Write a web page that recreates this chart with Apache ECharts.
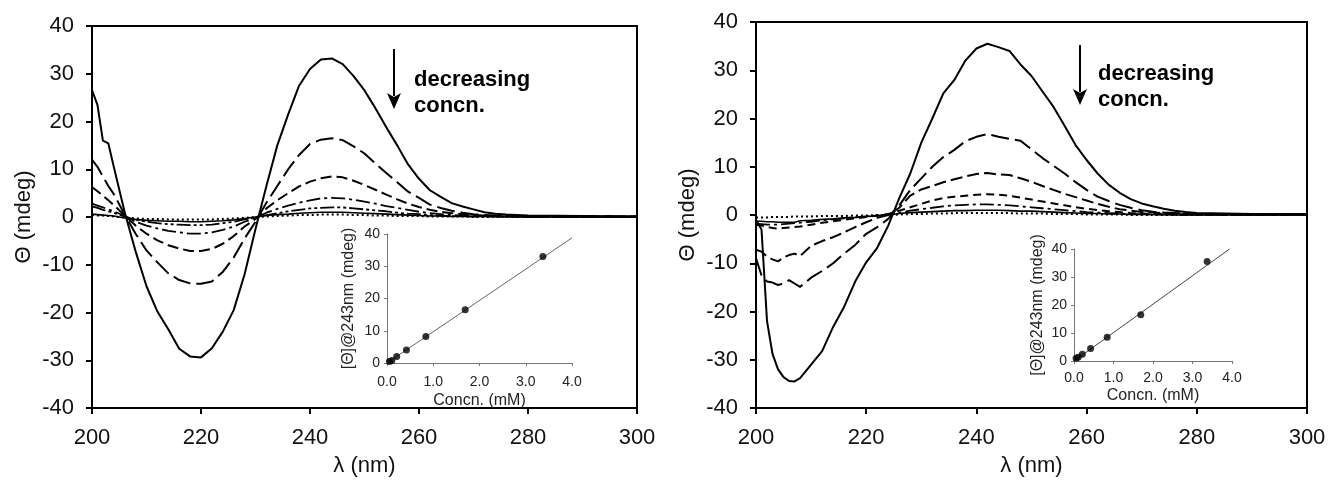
<!DOCTYPE html>
<html><head><meta charset="utf-8">
<script src="https://cdn.jsdelivr.net/npm/echarts@6/dist/echarts.min.js"></script>
<style>html,body{margin:0;padding:0;background:#fff}#c{width:1331px;height:487px}</style>
</head><body><div id="c"></div>
<script>
// ---- Left panel (wavelength, nm) ----
const waveL = [200,201,202,203,204,206,208,210,212,214,216,218,220,222,224,226,228,230,232,234,236,238,240,242,244,246,248,250,252,254,256,258,260,262,264,266,268,270,272,274,276,278,280,290,300];
const L1 = [26.6,23.5,16.0,15.4,10.5,1.0,-7.2,-14.5,-19.8,-23.5,-27.6,-29.2,-29.4,-27.5,-24.0,-19.5,-12.0,-2.5,6.5,15.0,21.5,27.5,31.0,33.0,33.2,32.0,29.5,26.5,22.8,18.8,15.0,11.0,8.0,5.6,4.2,2.9,2.2,1.6,1.0,0.7,0.5,0.4,0.3,0.2,0.1];
const L2 = [12.0,10.5,8.5,6.5,4.8,0.5,-3.5,-7.0,-9.5,-11.8,-13.2,-13.9,-14.0,-13.5,-11.5,-8.5,-4.5,-1.0,3.0,6.5,10.0,13.0,15.3,16.2,16.5,16.1,14.8,13.3,11.2,9.2,7.3,5.3,4.0,2.6,1.9,1.3,0.9,0.6,0.4,0.3,0.2,0.2,0.1,0.1,0.1];
const L3 = [6.3,5.4,4.5,3.5,2.5,0.3,-1.8,-3.5,-4.9,-5.9,-6.6,-7.1,-7.1,-6.7,-5.6,-4.0,-2.0,-0.4,1.8,3.5,5.0,6.4,7.4,8.1,8.5,8.3,7.6,6.7,5.7,4.7,3.7,2.8,2.1,1.5,1.1,0.8,0.6,0.4,0.3,0.2,0.2,0.1,0.1,0.1,0.1];
const L4 = [2.8,2.4,2.0,1.6,1.2,0.2,-1.0,-1.8,-2.4,-2.9,-3.2,-3.5,-3.5,-3.2,-2.7,-2.0,-1.0,-0.2,0.9,1.7,2.4,3.0,3.5,3.9,4.0,3.9,3.6,3.2,2.8,2.3,1.9,1.5,1.1,0.8,0.6,0.4,0.3,0.2,0.2,0.1,0.1,0.1,0.1,0.1,0.1];
const L5 = [2.2,1.9,1.5,1.2,0.9,0.1,-0.6,-1.0,-1.3,-1.5,-1.6,-1.7,-1.7,-1.6,-1.3,-1.0,-0.5,-0.1,0.4,0.8,1.2,1.5,1.8,1.9,2.0,2.0,1.8,1.6,1.4,1.2,0.9,0.7,0.6,0.4,0.3,0.2,0.2,0.1,0.1,0.1,0.1,0.1,0.1,0.0,0.0];
const L6 = [0.6,0.5,0.4,0.3,0.2,-0.2,-0.5,-0.7,-0.8,-0.9,-0.9,-1.0,-1.0,-0.9,-0.8,-0.6,-0.3,0.0,0.3,0.5,0.6,0.8,0.9,1.0,1.0,1.0,0.9,0.8,0.7,0.6,0.5,0.4,0.3,0.2,0.2,0.1,0.1,0.1,0.1,0.1,0.1,0.0,0.0,0.0,0.0];
const L7 = [0.4,0.3,0.3,0.2,0.1,-0.1,-0.3,-0.4,-0.4,-0.5,-0.5,-0.5,-0.5,-0.5,-0.4,-0.3,-0.2,0.0,0.1,0.2,0.3,0.4,0.4,0.5,0.5,0.5,0.4,0.4,0.3,0.3,0.2,0.2,0.2,0.1,0.1,0.1,0.1,0.0,0.0,0.0,0.0,0.0,0.0,0.0,0.0];

// ---- Right panel ----
const waveR = [200,201,202,203,204,205,206,207,208,210,212,214,216,218,220,222,224,226,228,230,232,234,236,238,240,242,244,246,248,250,252,254,256,258,260,262,264,266,268,270,272,274,276,278,280,290,300];
const R1 = [-1.0,-3.0,-22.0,-28.8,-32.0,-33.6,-34.4,-34.5,-33.8,-31.0,-28.2,-23.2,-19.0,-13.8,-9.8,-6.8,-2.2,3.5,8.6,15.0,20.0,25.2,28.0,32.0,34.5,35.5,34.8,34.0,31.2,28.8,25.6,22.4,18.5,14.5,11.4,8.6,6.3,4.6,3.3,2.4,1.8,1.3,0.9,0.6,0.4,0.2,0.2];
const R2 = [-9.0,-12.5,-13.8,-14.0,-14.5,-14.2,-13.5,-14.2,-14.9,-13.0,-11.6,-10.0,-8.0,-6.2,-3.9,-2.5,-0.8,2.0,5.2,7.6,10.0,12.0,13.5,15.3,16.2,16.8,16.2,15.8,15.4,13.6,11.8,10.2,8.6,6.8,5.2,3.8,2.9,2.1,1.5,1.0,0.7,0.5,0.4,0.3,0.2,0.1,0.1];
const R3 = [-7.2,-7.6,-8.6,-9.2,-9.6,-8.8,-8.3,-8.0,-8.5,-6.4,-5.4,-4.6,-3.6,-2.5,-1.5,-0.6,0.0,1.5,4.0,5.3,6.0,6.8,7.4,8.0,8.5,8.7,8.4,8.3,7.6,6.9,6.0,5.2,4.4,3.7,3.0,2.3,1.7,1.2,0.9,0.6,0.5,0.4,0.3,0.2,0.2,0.1,0.1];
const R4 = [-2.0,-2.2,-2.5,-2.7,-2.8,-2.7,-2.6,-2.5,-2.4,-2.0,-1.6,-1.3,-1.0,-0.7,-0.4,-0.1,0.2,0.9,1.6,2.3,3.0,3.5,3.8,4.0,4.2,4.3,4.2,4.0,3.6,3.2,2.8,2.4,2.0,1.6,1.3,1.0,0.8,0.6,0.4,0.3,0.2,0.2,0.1,0.1,0.1,0.1,0.1];
const R5 = [-1.8,-1.9,-2.0,-2.0,-2.0,-1.9,-1.8,-1.7,-1.6,-1.4,-1.1,-0.9,-0.7,-0.5,-0.3,-0.1,0.1,0.5,0.9,1.2,1.5,1.8,2.0,2.1,2.2,2.2,2.1,2.0,1.8,1.6,1.4,1.2,1.0,0.8,0.6,0.5,0.4,0.3,0.2,0.2,0.1,0.1,0.1,0.1,0.1,0.0,0.0];
const R6 = [-1.3,-1.3,-1.4,-1.4,-1.5,-1.5,-1.5,-1.5,-1.2,-1.1,-0.9,-0.8,-0.6,-0.5,-0.3,-0.2,0.0,0.3,0.5,0.6,0.7,0.8,0.9,0.9,1.0,1.0,1.0,0.9,0.8,0.8,0.7,0.6,0.5,0.4,0.3,0.3,0.2,0.2,0.1,0.1,0.1,0.1,0.0,0.0,0.0,0.0,0.0];
const R7 = [-0.5,-0.5,-0.5,-0.4,-0.4,-0.4,-0.4,-0.3,-0.3,-0.3,-0.2,-0.2,-0.2,-0.1,-0.1,0.0,0.0,0.1,0.2,0.2,0.3,0.3,0.4,0.4,0.4,0.4,0.4,0.4,0.3,0.3,0.3,0.2,0.2,0.2,0.1,0.1,0.1,0.1,0.0,0.0,0.0,0.0,0.0,0.0,0.0,0.0,0.0];

// ---- Insets: [Θ]@243nm vs concentration ----
const concn = [0.053,0.105,0.21,0.42,0.84,1.69,3.37];
const thetaL = [0.5,0.8,2.0,4.0,8.2,16.5,33.0];
const thetaR = [1.0,1.3,2.4,4.5,8.5,16.5,35.5];
const fitX = [0, 4.0];
const fitYL = [0, 38.8];
const fitXR = [0, 3.94];
const fitYR = [0, 40.0];

const FONT = "'Liberation Sans', Arial, Helvetica, sans-serif";

const stylesL = [
  {width:2, type:'solid'},
  {width:2, type:[18,6]},
  {width:2, type:[11,5]},
  {width:1.8, type:[14,4,3,4]},
  {width:1.8, type:[14,3,3,3,3,3]},
  {width:1.6, type:'solid'},
  {width:2, type:[2,3]}
];
const stylesR = [
  {width:2, type:'solid'},
  {width:2, type:[18,6]},
  {width:2, type:[12,5]},
  {width:2, type:[8,5]},
  {width:1.8, type:[14,4,3,4]},
  {width:1.6, type:'solid'},
  {width:2, type:[2,3]}
];

function pairs(xs, ys){ return xs.map((x,i)=>[x, ys[i]]); }

function mainX(g){
  return {gridIndex:g, type:'value', min:200, max:300, interval:20,
    axisLine:{show:true, onZero:false, lineStyle:{color:'#000', width:2}},
    axisTick:{show:true, length:6, inside:false, lineStyle:{color:'#000', width:2}},
    axisLabel:{fontSize:22, color:'#111', margin:19, fontFamily:FONT},
    splitLine:{show:false},
    name:'λ (nm)', nameLocation:'middle', nameGap:47,
    nameTextStyle:{fontSize:22, color:'#111', fontFamily:FONT}};
}
function mainY(g){
  return {gridIndex:g, type:'value', min:-40, max:40, interval:10,
    axisLine:{show:true, onZero:false, lineStyle:{color:'#000', width:2}},
    axisTick:{show:true, length:6, inside:false, lineStyle:{color:'#000', width:2}},
    axisLabel:{fontSize:22, color:'#111', margin:18, fontFamily:FONT},
    splitLine:{show:false},
    name:'Θ (mdeg)', nameLocation:'middle', nameGap:57, nameRotate:90,
    nameTextStyle:{fontSize:22, color:'#111', fontFamily:FONT}};
}
function insetX(g, lm, gap){
  return {gridIndex:g, type:'value', min:0, max:4, interval:1,
    axisLine:{show:true, onZero:false, lineStyle:{color:'#777', width:1}},
    axisTick:{show:true, length:3, inside:false, lineStyle:{color:'#777', width:1}},
    axisLabel:{fontSize:14, color:'#222', margin:lm, fontFamily:FONT, formatter:v=>v.toFixed(1)},
    splitLine:{show:false},
    name:'Concn. (mM)', nameLocation:'middle', nameGap:gap,
    nameTextStyle:{fontSize:16, color:'#222', fontFamily:FONT}};
}
function insetY(g, gap){
  return {gridIndex:g, type:'value', min:0, max:40, interval:10,
    axisLine:{show:true, onZero:false, lineStyle:{color:'#777', width:1}},
    axisTick:{show:true, length:3, inside:false, lineStyle:{color:'#777', width:1}},
    axisLabel:{fontSize:14, color:'#222', margin:7, fontFamily:FONT},
    splitLine:{show:false},
    name:'[Θ]@243nm (mdeg)', nameLocation:'middle', nameGap:gap, nameRotate:90,
    nameTextStyle:{fontSize:16, color:'#222', fontFamily:FONT}};
}

const series = [];
[L1,L2,L3,L4,L5,L6,L7].forEach((d,i)=>{
  series.push({type:'line', xAxisIndex:0, yAxisIndex:0, data:pairs(waveL,d), symbol:'none',
    lineStyle:{color:'#000', width:stylesL[i].width, type:stylesL[i].type}, silent:true, z:3});
});
[R1,R2,R3,R4,R5,R6,R7].forEach((d,i)=>{
  series.push({type:'line', xAxisIndex:1, yAxisIndex:1, data:pairs(waveR,d), symbol:'none',
    lineStyle:{color:'#000', width:stylesR[i].width, type:stylesR[i].type}, silent:true, z:3});
});
series.push({type:'line', xAxisIndex:2, yAxisIndex:2, data:pairs(fitX,fitYL), symbol:'none',
  lineStyle:{color:'#666', width:1}, z:4});
series.push({type:'scatter', xAxisIndex:2, yAxisIndex:2, data:pairs(concn,thetaL), symbol:'circle', symbolSize:7,
  itemStyle:{color:'#000'}, z:5});
series.push({type:'line', xAxisIndex:3, yAxisIndex:3, data:pairs(fitXR,fitYR), symbol:'none',
  lineStyle:{color:'#444', width:1}, z:4});
series.push({type:'scatter', xAxisIndex:3, yAxisIndex:3, data:pairs(concn,thetaR), symbol:'circle', symbolSize:7,
  itemStyle:{color:'#000'}, z:5});

const chart = echarts.init(document.getElementById('c'), null, {renderer:'canvas'});
chart.setOption({
  animation:false,
  backgroundColor:'#fff',
  grid:[
    {left:92, top:26, width:545, height:382, show:true, borderColor:'#000', borderWidth:2, backgroundColor:'transparent'},
    {left:756, top:22, width:551, height:386, show:true, borderColor:'#000', borderWidth:2, backgroundColor:'transparent'},
    {left:387, top:234, width:185, height:129},
    {left:1074, top:249, width:158, height:112}
  ],
  xAxis:[mainX(0), mainX(1), insetX(2, 12, 30), insetX(3, 10, 27)],
  yAxis:[mainY(0), mainY(1), insetY(2, 30), insetY(3, 28)],
  series:series,
  graphic:[
    {type:'line', shape:{x1:394, y1:49, x2:394, y2:96}, style:{stroke:'#000', lineWidth:2}},
    {type:'polygon', shape:{points:[[387,93],[394,97],[401,93],[394,109]]}, style:{fill:'#000'}},
    {type:'text', x:414, y:67, style:{text:'decreasing\nconcn.', font:"bold 22px 'Liberation Sans', Arial, sans-serif", lineHeight:26, fill:'#000'}},
    {type:'line', shape:{x1:1080, y1:45, x2:1080, y2:92}, style:{stroke:'#000', lineWidth:2}},
    {type:'polygon', shape:{points:[[1073,89],[1080,93],[1087,89],[1080,105]]}, style:{fill:'#000'}},
    {type:'text', x:1098, y:61, style:{text:'decreasing\nconcn.', font:"bold 22px 'Liberation Sans', Arial, sans-serif", lineHeight:26, fill:'#000'}}
  ]
});
</script></body></html>
